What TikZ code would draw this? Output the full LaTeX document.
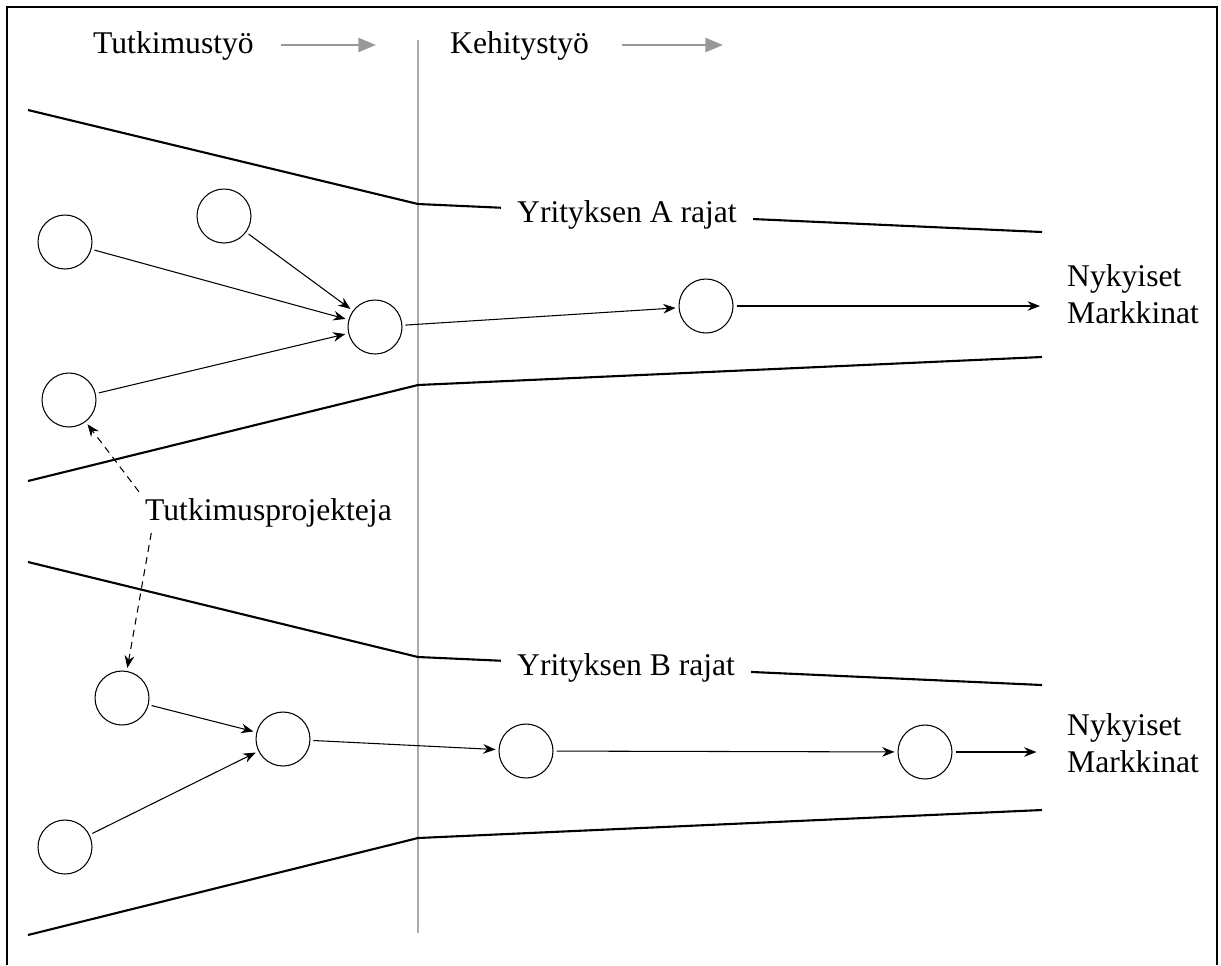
\documentclass[tikz,border=0pt]{standalone}
\usepackage{fontspec}
\setmainfont{Liberation Serif}
\usetikzlibrary{arrows.meta}
\begin{document}
\begin{tikzpicture}[x=0.02cm, y=-0.02cm, font=\fontsize{18}{21}\selectfont,
  proj/.style = {draw, circle, minimum size=1.08cm, inner sep=0pt, outer sep=2pt, line width=0.6pt},
  border/.style = {line width=1.2pt},
  rajat/.style = {fill=white, inner xsep=9pt, anchor=base west},
  flow/.style = {-{Stealth[length=7pt,width=5.5pt]}, line width=0.6pt},
  phase/.style = {-{Triangle[length=10pt,width=8pt]}, line width=1.2pt, color=black!40}]

	\useasboundingbox (0,0) rectangle (1221,965);
	\draw[line width=1.2pt] (7,965) -- (7,7) -- (1217,7) -- (1217,965);

	% vaiheet
	\node[anchor=base west] (tt) at (87,53) {Tutkimustyö};
	\node[anchor=base west] (kt) at (444,53) {Kehitystyö};
	\coordinate (tte) at (376,45);
	\coordinate (kte) at (723,45);
	\draw[phase, shorten <=12pt] (tt.east |- tte) -- (tte);
	\draw[phase, shorten <=15pt] (kt.east |- kte) -- (kte);

	\coordinate (vt) at (418,40);
	\coordinate (vb) at (418,933);
	\draw[line width=1.1pt, color=black!33] (vt) -- (vb);

	% yritys A
	\draw[border] (28,110) -- (418,204) -- (1042,232);
	\draw[border] (28,481) -- (418,385) -- (1042,357);
	\node[rajat] (yA) at (501,222) {Yrityksen A rajat};

	% yritys B
	\draw[border] (28,562) -- (418,657) -- (1042,685);
	\draw[border] (28,935) -- (418,838) -- (1042,810);
	\node[rajat] (yB) at (501,675) {Yrityksen B rajat};

	\node[proj] (a1) at (65,242) {};
	\node[proj] (a2) at (224,216) {};
	\node[proj] (a3) at (69,400) {};
	\node[proj] (ah) at (375,327) {};
	\node[proj] (ak) at (706,306) {};
	\node[anchor=west, align=left] (mA) at (1061,294) {Nykyiset\\Markkinat};

	\node[proj] (b1) at (122,698) {};
	\node[proj] (b2) at (65,847) {};
	\node[proj] (bh) at (283,739) {};
	\node[proj] (bk1) at (526,751) {};
	\node[proj] (bk2) at (925,752) {};
	\node[anchor=west, align=left] (mB) at (1061,743) {Nykyiset\\Markkinat};

	\node[anchor=base west] (tp) at (139,520) {Tutkimusprojekteja};

	\draw[flow] (a1) -- (ah);
	\draw[flow] (a2) -- (ah);
	\draw[flow] (a3) -- (ah);
	\draw[flow] (ah) -- (ak);
	\draw[flow, shorten >=12pt] (ak) -- (ak -| mA.west);

	\draw[flow] (b1) -- (bh);
	\draw[flow] (b2) -- (bh);
	\draw[flow] (bh) -- (bk1);
	\draw[flow] (bk1) -- (bk2);
	\draw[flow, shorten >=14pt] (bk2) -- (bk2 -| mB.west);

	\draw[flow, dash pattern=on 4pt off 3pt] (tp.north west) -- (a3);
	\draw[flow, dash pattern=on 4pt off 3pt] ([xshift=7pt]tp.south west) -- (b1);
\end{tikzpicture}
\end{document}
